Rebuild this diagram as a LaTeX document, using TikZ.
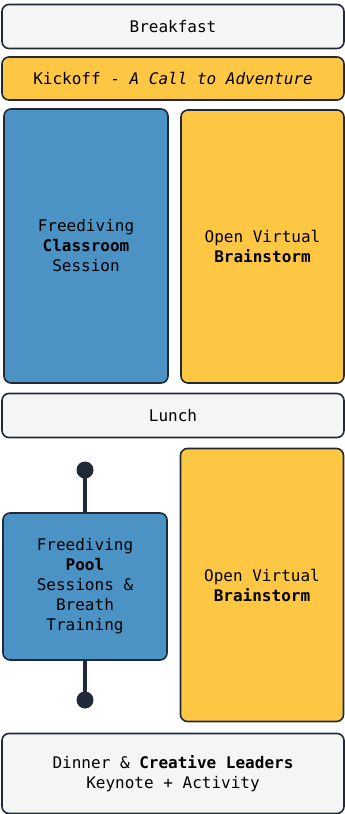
\documentclass[tikz,border=0pt]{standalone}
\usepackage{fontspec}
\setmonofont{DejaVu Sans Mono}
\usetikzlibrary{positioning}

\definecolor{edge}{HTML}{1F2937}
\definecolor{sessionblue}{HTML}{4B93C4}
\definecolor{brainyellow}{HTML}{FDC743}
\definecolor{mealgray}{HTML}{F5F5F5}

\tikzset{
	slot/.style={draw=edge, line width=1.6pt, rounded corners=7pt, align=center,
		font=\fontsize{16}{20}\selectfont\ttfamily, text=black, inner sep=0pt},
	meal/.style={slot, fill=mealgray, minimum width=342pt},
	session/.style={slot, fill=sessionblue, minimum width=164pt},
	brainstorm/.style={slot, fill=brainyellow, minimum width=163pt, minimum height=273pt},
	track/.style={draw=edge, line width=3.5pt},
	pin/.style={fill=edge}
}

\begin{document}
\begin{tikzpicture}[x=1pt, y=-1pt]
	
	\useasboundingbox (0,0) rectangle (345,814);
	
	\node [meal, minimum height=44pt] (breakfast) at (173,26.5) {Breakfast};
	
	\node [slot, fill=brainyellow, minimum width=342pt, minimum height=43pt] (kickoff) at (173,78.5) {Kickoff - \textit{A Call to Adventure}};
	
	\node [session, minimum height=274pt] (classroom) at (86,246) {Freediving\\\textbf{Classroom}\\Session};
	
	\node [brainstorm] (brainam) at (262.5,246.5) {Open Virtual\\\textbf{Brainstorm}};
	
	\node [meal, minimum height=44pt] (lunch) at (173,415.5) {Lunch};
	
	\node [brainstorm] (brainpm) at (262,585) {Open Virtual\\\textbf{Brainstorm}};
	
	% pool session with its timeline
	\coordinate (pooltop) at (85,470);
	\coordinate (poolend) at (85,700);
	
	\draw [track] (pooltop) -- (85,513);
	\draw [track] (85,660) -- (poolend);
	
	\node [session, minimum height=147pt] (pool) at (85,586.5) {Freediving\\\textbf{Pool}\\Sessions \&\\Breath\\Training};
	
	\fill [pin] (pooltop) circle [radius=8.5pt];
	\fill [pin] (poolend) circle [radius=8.5pt];
	
	\node [meal, minimum height=80pt] (dinner) at (173,773.5) {Dinner \& \textbf{Creative Leaders}\\Keynote + Activity};
	
\end{tikzpicture}
\end{document}
